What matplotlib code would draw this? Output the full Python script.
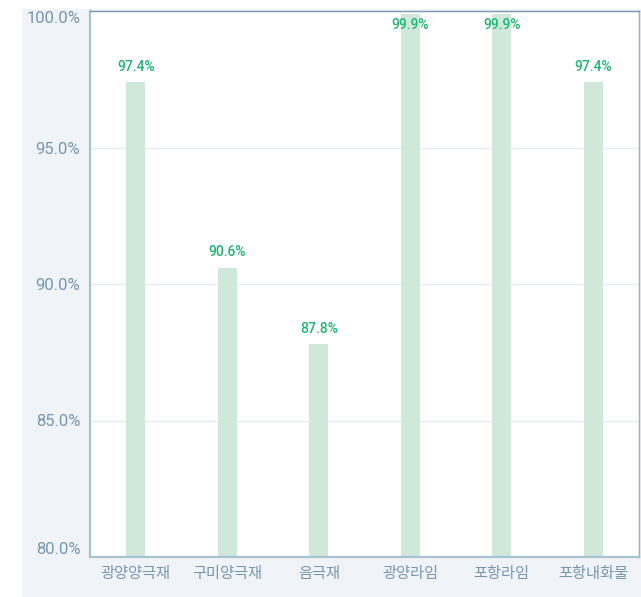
import matplotlib.pyplot as plt
from matplotlib.patches import Rectangle

plt.rcParams['font.family'] = ['Roboto', 'Noto Sans CJK KR', 'DejaVu Sans']

lines = ['광양양극재', '구미양극재', '음극재', '광양라임', '포항라임', '포항내화물']
rates = [97.4, 90.6, 87.8, 99.9, 99.9, 97.4]
yticks = [80, 85, 90, 95, 100]

bar_color = '#cfe8da'
label_color = '#1fb574'
tick_color = '#7696b0'

fig = plt.figure(figsize=(6.41, 5.97), dpi=100)
# light panel behind the plot
fig.patches.append(Rectangle((22 / 641, 0), 1 - 22 / 641, 1 - 9 / 597,
                             transform=fig.transFigure, facecolor='#f0f4f8',
                             edgecolor='none', zorder=-1))

ax = fig.add_axes([90 / 641, 1 - 557 / 597, 549 / 641, 546 / 597])
ax.set_facecolor('white')

x = range(len(lines))
ax.bar(x, rates, width=0.21, color=bar_color, zorder=2)
for xi, v in zip(x, rates):
    # bars that reach the top edge get their label just under the bar top
    if v > 99:
        ax.annotate(f'{v:.1f}%', (xi, v), xytext=(0, -3), textcoords='offset points',
                    ha='center', va='top', color=label_color, fontsize=10,
                    fontweight='medium', zorder=3)
    else:
        ax.annotate(f'{v:.1f}%', (xi, v), xytext=(0, 6), textcoords='offset points',
                    ha='center', va='bottom', color=label_color, fontsize=10,
                    fontweight='medium', zorder=3)

ax.set_xlim(-0.5, len(lines) - 0.5)
ax.set_ylim(80, 100)
ax.set_yticks(yticks)
ax.set_yticklabels([f'{t:.1f}%' for t in yticks])
ax.set_xticks(list(x))
ax.set_xticklabels(lines, fontweight='medium')

ax.tick_params(axis='y', length=0, pad=7, labelsize=12, labelcolor=tick_color)
ax.tick_params(axis='x', length=0, pad=7, labelsize=11, labelcolor=tick_color)
ylabels = ax.get_yticklabels()
ylabels[0].set_va('bottom')
ylabels[-1].set_va('top')

ax.grid(axis='y', color='#e6ebf0', linewidth=1, zorder=1)
ax.set_axisbelow(True)

ax.spines['left'].set_color('#a9c2d2')
ax.spines['left'].set_linewidth(1.6)
ax.spines['bottom'].set_color('#a9c2d2')
ax.spines['bottom'].set_linewidth(1.6)
ax.spines['top'].set_color('#7f98a8')
ax.spines['top'].set_linewidth(1.0)
ax.spines['right'].set_color('#9aaebb')
ax.spines['right'].set_linewidth(1.0)

fig.savefig('out.png', dpi=100)
